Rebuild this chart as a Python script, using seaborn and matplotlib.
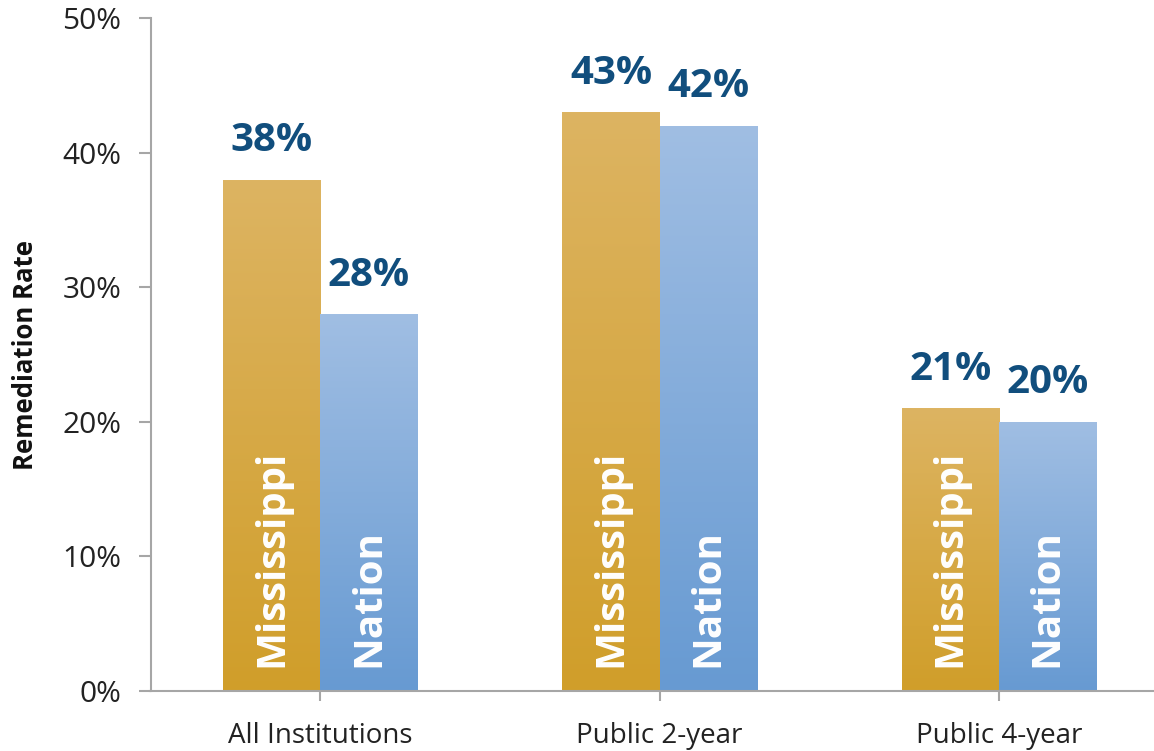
import matplotlib
matplotlib.use("Agg")
import matplotlib.pyplot as plt
import numpy as np
import pandas as pd
import seaborn as sns
from matplotlib.colors import LinearSegmentedColormap
from matplotlib.ticker import FuncFormatter, MultipleLocator

categories = ["All Institutions", "Public 2-year", "Public 4-year"]
groups = ["Mississippi", "Nation"]
mississippi = [38, 43, 21]
nation = [28, 42, 20]

df = pd.DataFrame({
    "Category": categories * 2,
    "Group": ["Mississippi"] * 3 + ["Nation"] * 3,
    "Rate": mississippi + nation,
})

sns.set_theme(style="white")
plt.rcParams['font.family'] = ['Open Sans', 'DejaVu Sans']

fig = plt.figure(figsize=(11.54, 7.51), dpi=100)
ax = fig.add_axes([150.5 / 1154, 1 - 691 / 751, (1168.5 - 150.5) / 1154, (691 - 18) / 751])

gold_top, gold_bot = "#DDB462", "#D09E2A"
blue_top, blue_bot = "#A0BEE3", "#679AD2"

sns.barplot(data=df, x="Category", y="Rate", hue="Group", hue_order=groups,
            order=categories, width=0.572, gap=0, palette=[gold_bot, blue_bot],
            ax=ax, legend=False, saturation=1)

ax.set_xlim(-0.5, 2.5)
ax.set_ylim(0, 50)

cmaps = {
    "Mississippi": LinearSegmentedColormap.from_list("g", [gold_bot, gold_top]),
    "Nation": LinearSegmentedColormap.from_list("b", [blue_bot, blue_top]),
}
grad = np.linspace(0, 1, 256).reshape(-1, 1)
for container, grp in zip(ax.containers, groups):
    for patch in container.patches:
        x0, y0 = patch.get_x(), patch.get_y()
        w, h = patch.get_width(), patch.get_height()
        patch.set_facecolor("none")
        patch.set_edgecolor("none")
        im = ax.imshow(grad, cmap=cmaps[grp], aspect="auto", origin="lower",
                       extent=[x0, x0 + w, y0, y0 + h], zorder=2)
        im.set_clip_path(patch)
        cx = x0 + w / 2
        ax.annotate(f"{int(round(h))}%", (cx, h), xytext=(0, 14), textcoords="offset points",
                    ha="center", va="bottom", fontsize=29, fontweight="bold", color="#114E7D")
        ax.text(cx, 1.75, grp, rotation=90, rotation_mode="anchor", ha="left", va="center",
                fontsize=29, fontweight="bold", color="white", zorder=3)

ax.set_xlim(-0.5, 2.5)
ax.set_ylim(0, 50)

ax.yaxis.set_major_locator(MultipleLocator(10))
ax.yaxis.set_major_formatter(FuncFormatter(lambda v, p: f"{int(v)}%"))
spine_c = "#A6A6A6"
for s in ["top", "right"]:
    ax.spines[s].set_visible(False)
for s in ["left", "bottom"]:
    ax.spines[s].set_color(spine_c)
    ax.spines[s].set_linewidth(1.5)
ax.tick_params(axis="y", which="major", direction="out", length=9, width=1.5, color=spine_c,
               labelsize=21.5, labelcolor="#222222", pad=12, left=True)
ax.tick_params(axis="x", which="major", direction="out", length=7, width=1.5, color=spine_c,
               labelsize=20, labelcolor="#222222", pad=15, bottom=True)
ax.set_xlabel("")
ax.set_ylabel("Remediation Rate", fontsize=18.5, fontweight="bold", color="#111111", labelpad=17)

fig.savefig("out.png", dpi=100)
